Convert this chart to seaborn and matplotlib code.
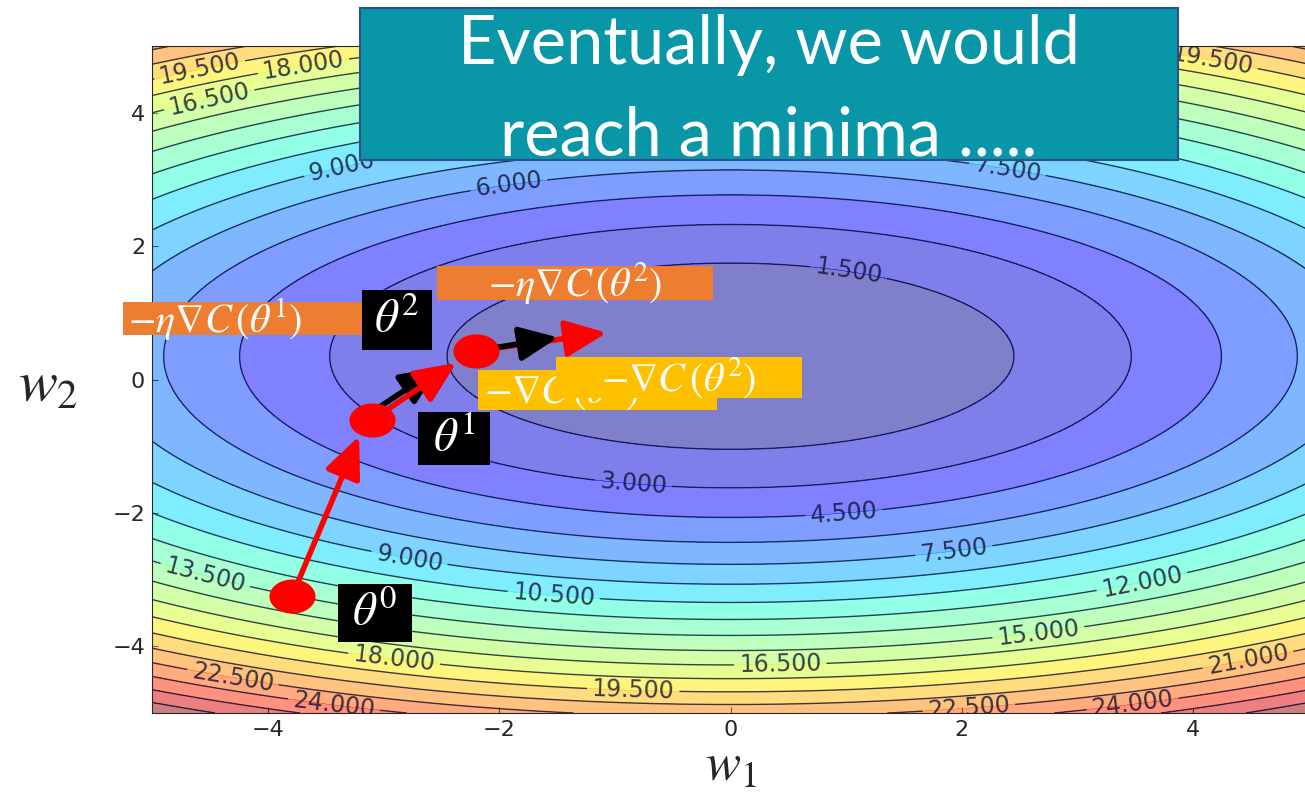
import numpy as np
import matplotlib.pyplot as plt
import seaborn as sns
from matplotlib.patches import Rectangle

# cost surface C(w1, w2) = a*w1^2 + b*(w2 - c)^2, coefficients
coef_a = 0.25
coef_b = 0.77
center_w2 = 0.35
levels = np.arange(0, 30, 1.5)

# gradient descent path (theta^0, theta^1, theta^2)
path_w1 = [-3.79, -3.10, -2.20]
path_w2 = [-3.25, -0.61, 0.43]
# red arrows: -eta * grad C
step_tip_w1 = [-3.21, -2.37, -1.07]
step_tip_w2 = [-0.85, 0.25, 0.70]
# black arrows: -grad C at theta^1, theta^2
grad_tip_w1 = [-2.52, -1.49]
grad_tip_w2 = [0.18, 0.63]

ticks = [-4, -2, 0, 2, 4]

# where the contour labels sit
label_pos = [(-4.6, 4.75), (-3.7, 4.8), (-4.5, 4.15), (-3.35, 3.12), (-1.92, 2.97),
             (2.4, 3.22), (4.17, 4.83), (1.02, 1.62), (-0.84, -1.57), (0.98, -2.02),
             (1.93, -2.58), (-2.78, -2.73), (-1.53, -3.27), (-4.55, -3.0), (3.57, -3.15),
             (2.66, -3.78), (0.43, -4.27), (-2.91, -4.23), (-0.84, -4.65), (4.48, -4.27),
             (-4.3, -4.45), (-3.43, -4.92), (3.48, -4.92), (2.06, -4.9)]

sns.set_style("ticks")
plt.rcParams['mathtext.fontset'] = 'stix'

W = 1305
H = 794
fig = plt.figure(figsize=(W / 100, H / 100), dpi=100)
ax = fig.add_axes([152 / W, 1 - 713 / H, 1157 / W, 667 / H])

g1, g2 = np.meshgrid(np.linspace(-5, 5, 500), np.linspace(-5, 5, 500))
cost = coef_a * g1 ** 2 + coef_b * (g2 - center_w2) ** 2

ax.contourf(g1, g2, cost, levels=levels, cmap='jet', alpha=0.5)
cs = ax.contour(g1, g2, cost, levels=levels, colors='#10143a', linewidths=1.0, alpha=0.8)
ax.clabel(cs, fmt='%.3f', manual=label_pos, inline=True, fontsize=17, colors='#101030')

ax.set_xlim(-5, 5)
ax.set_ylim(-5, 5)
ax.set_xticks(ticks)
ax.set_yticks(ticks)
ax.tick_params(direction='in', labelsize=16, length=4, pad=5)
ax.set_xlabel('$w_1$', fontsize=38, labelpad=0)
ax.set_ylabel('$w_2$', fontsize=42, rotation=0)
ax.yaxis.set_label_coords(-0.09, 0.45)

# arrows
for i in range(3):
    ax.annotate('', xy=(step_tip_w1[i], step_tip_w2[i]), xytext=(path_w1[i], path_w2[i]),
                arrowprops=dict(arrowstyle='-|>,head_length=0.9,head_width=0.4',
                                mutation_scale=28, lw=4, color='red', shrinkA=0, shrinkB=0),
                zorder=4)
for i in range(2):
    ax.annotate('', xy=(grad_tip_w1[i], grad_tip_w2[i]), xytext=(path_w1[i + 1], path_w2[i + 1] + 0.12 * (i == 0)),
                arrowprops=dict(arrowstyle='-|>,head_length=0.9,head_width=0.4',
                                mutation_scale=26, lw=4, color='black', shrinkA=0, shrinkB=0),
                zorder=3 + 2 * i)

ellipse = [(np.cos(t), 0.74 * np.sin(t)) for t in np.linspace(0, 2 * np.pi, 60)]
sns.scatterplot(x=path_w1, y=path_w2, ax=ax, marker=ellipse, s=1100, color='red',
                linewidth=0, zorder=6)


def box(x0, y0, x1, y1, color, text, size, z, left=None):
    fig.add_artist(Rectangle((x0 / W, 1 - y1 / H), (x1 - x0) / W, (y1 - y0) / H,
                             transform=fig.transFigure, facecolor=color, edgecolor='none', zorder=z))
    if left is None:
        fig.text((x0 + x1) / 2 / W, 1 - (y0 + y1) / 2 / H, text, ha='center', va='center',
                 color='white', fontsize=size, zorder=z + 0.5)
    else:
        fig.text(left / W, 1 - (y0 + y1) / 2 / H, text, ha='left', va='center',
                 color='white', fontsize=size, zorder=z + 0.5)


box(123, 302, 365, 335, '#ED7D31', r'$-\eta\nabla C\,(\theta^1)$', 29, 10, left=128)
box(362, 290, 432, 350, 'black', r'$\theta^2$', 34, 11)
box(437, 266, 713, 300, '#ED7D31', r'$-\eta\nabla C\,(\theta^2)$', 29, 12)
box(478, 370, 717, 410, '#FFC000', r'$-\nabla C\,(\theta^1)$', 29, 13, left=484)
box(556, 357, 802, 398, '#FFC000', r'$-\nabla C\,(\theta^2)$', 29, 14)
box(418, 412, 490, 465, 'black', r'$\theta^1$', 34, 15)
box(338, 584, 412, 642, 'black', r'$\theta^0$', 34, 16)

# title banner
fig.add_artist(Rectangle((360 / W, 1 - 160 / H), 818 / W, 152 / H, transform=fig.transFigure,
                         facecolor='#0996A7', edgecolor='#2F4F8F', lw=1.5, zorder=20))
fig.text(769 / W, 1 - 64 / H, 'Eventually, we would', ha='center', va='baseline',
         color='white', fontsize=48, family='Lato', zorder=21)
fig.text(769 / W, 1 - 156 / H, 'reach a minima .....', ha='center', va='baseline',
         color='white', fontsize=48, family='Lato', zorder=21)

fig.savefig('out.png', dpi=100)
